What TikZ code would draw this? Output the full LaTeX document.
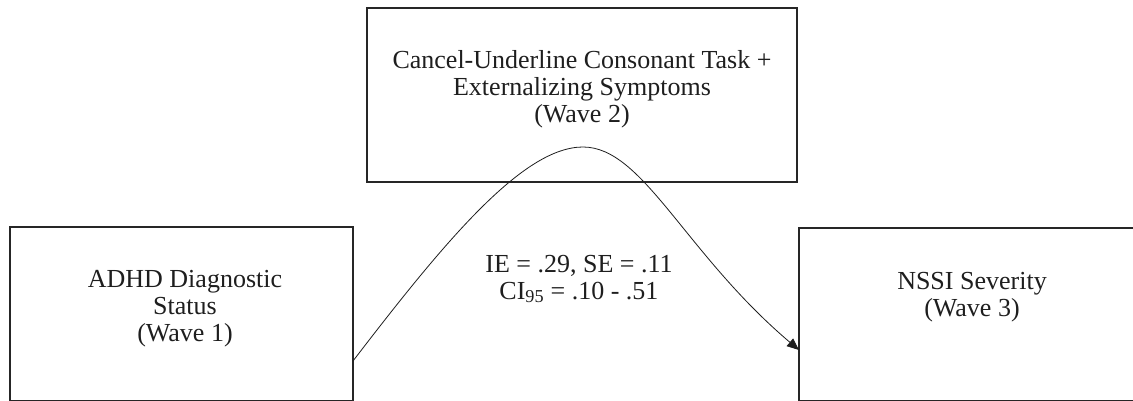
\documentclass[tikz,border=0pt]{standalone}
\usepackage{fontspec}
\setmainfont{Liberation Serif}
\usepackage{xcolor}
\usepackage{tikz}
\usetikzlibrary{arrows.meta,positioning}
\definecolor{Ink}{HTML}{1E1E1E}
\definecolor{Frame}{HTML}{262626}

\begin{document}
\begin{tikzpicture}[x=1pt,y=1pt]
  \path[use as bounding box] (0,0) rectangle (1133,400);
  \clip (0,0) rectangle (1133,400);
  \tikzset{
    medBox/.style={
      draw=Frame, line width=1.9pt, rectangle, outer sep=0pt,
      inner sep=0pt
    },
    medText/.style={
      align=center, text=Ink, inner sep=0pt,
      font=\fontsize{26}{27}\selectfont
    },
    medPath/.style={
      -{Triangle[length=12pt,width=10pt]}, draw=Ink, line width=.8pt
    }
  }

  \node[medBox, anchor=north west, minimum width=430pt, minimum height=174pt]
    (mediator) at (367,392) {};
  \node[medBox, anchor=south west, minimum width=343pt, minimum height=174.2pt]
    (adhd) at (10,-1.2) {};
  \node[medBox, anchor=south west, minimum width=360pt, minimum height=173.2pt]
    (nssi) at (799,-1.2) {};

  \node[medText] (mediatortext) at (582,311)
    {Cancel-Underline Consonant Task +\\Externalizing Symptoms\\(Wave 2)};
  \node[medText] (adhdtext) at (185,91)
    {ADHD Diagnostic\\Status\\(Wave 1)};
  \node[medText] (nssitext) at (972,102.5)
    {NSSI Severity\\(Wave 3)};
  \node[medText] (effect) at (579,121)
    {IE = .29, SE = .11\\CI\textsubscript{95} = .10 - .51};

  \coordinate (peak) at (583,253);
  \draw[medPath] ([yshift=40.2pt]adhd.south east)
    .. controls (445,159) and (523,253) .. (peak)
    .. controls (643,253) and (684.5,147) .. ([yshift=51.2pt]nssi.south west);
\end{tikzpicture}
\end{document}
